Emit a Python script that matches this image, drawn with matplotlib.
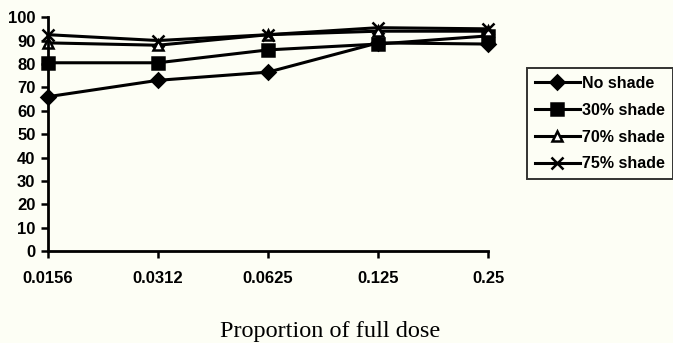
import matplotlib
matplotlib.use('Agg')
import matplotlib.pyplot as plt

# dose levels (categories) and survival per shade treatment
doses = ['0.0156', '0.0312', '0.0625', '0.125', '0.25']
no_shade = [66, 73, 76.5, 89, 88.5]
shade_30 = [80.5, 80.5, 86, 88.5, 92]
shade_70 = [89, 88, 92.5, 94, 94]
shade_75 = [92.5, 90, 92.5, 95.5, 95]

series = [
    ('No shade', no_shade, 'D', 7),
    ('30% shade', shade_30, 's', 8),
    ('70% shade', shade_70, '^', 7),
    ('75% shade', shade_75, 'x', 9),
]

bg = '#fdfef5'
fig = plt.figure(figsize=(6.73, 3.43), dpi=100, facecolor=bg)
ax = fig.add_axes([0.0713, 0.268, 0.654, 0.682])
ax.set_facecolor(bg)

x = range(len(doses))
for name, vals, mk, ms in series:
    face = 'white' if mk == '^' else 'black'
    ax.plot(x, vals, color='black', lw=2.2, marker=mk, markersize=ms,
            markerfacecolor=face, markeredgecolor='black', markeredgewidth=1.8,
            label=name, clip_on=False)

ax.set_xlim(0, len(doses) - 1)
ax.set_ylim(0, 100)
ax.set_yticks(range(0, 101, 10))
ax.set_xticks(list(x))
ax.set_xticklabels(doses)

for s in ['top', 'right']:
    ax.spines[s].set_visible(False)
for s in ['left', 'bottom']:
    ax.spines[s].set_linewidth(2)

ax.tick_params(axis='both', direction='out', length=5, width=1.8,
               labelsize=12, pad=4)
ax.tick_params(axis='x', pad=9)
for lab in ax.get_xticklabels() + ax.get_yticklabels():
    lab.set_fontfamily('Liberation Sans')
    lab.set_fontweight('bold')

fig.text(330 / 673, 1 - 337 / 343, 'Proportion of full dose',
         fontfamily='Liberation Serif', fontsize=17.5, ha='center', va='baseline')

leg = fig.legend(loc='upper left', bbox_to_anchor=(527 / 673, 1 - 68 / 343),
                 bbox_transform=fig.transFigure, borderaxespad=0,
                 frameon=True, fancybox=False, edgecolor='black', facecolor=bg,
                 prop={'family': 'Liberation Sans', 'weight': 'bold', 'size': 11.5},
                 handlelength=2.8, handletextpad=0.15, borderpad=0.5,
                 labelspacing=0.74)
leg.get_frame().set_linewidth(1.4)

fig.savefig('out.png', dpi=100, facecolor=bg)
